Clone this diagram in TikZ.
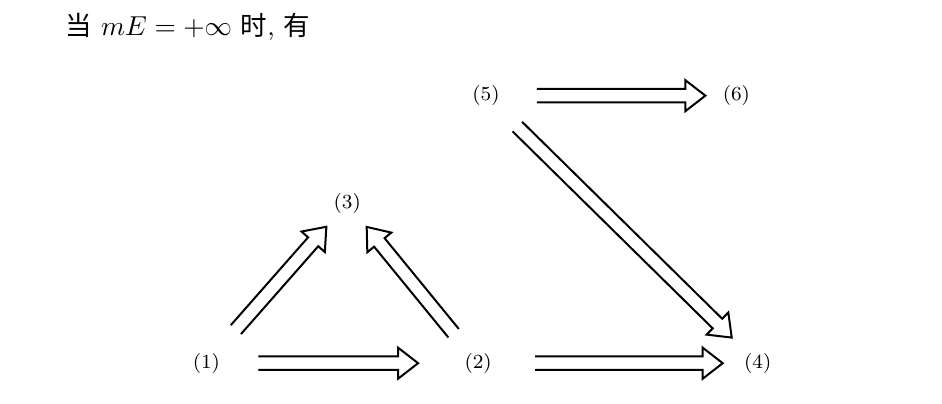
\documentclass[tikz,border=0pt]{standalone}
\usepackage{fontspec}
\newfontfamily\cjk{Noto Sans CJK SC}
\usepackage{tikz}
\usetikzlibrary{calc,positioning}

\tikzset{fat/.style={line width=0.8pt},
         lbl/.style={font=\footnotesize}}
% hollow double arrow from node #1 to node #2, gaps #3 and #4
\newcommand{\fatarrow}[4]{%
  \coordinate (fs) at ($(#1)!#3!(#2)$);
  \coordinate (fe) at ($(#2)!#4!(#1)$);
  \coordinate (fb) at ($(fe)!8pt!(fs)$);
  \draw[fat] ($(fs)!2.7pt!90:(fe)$) -- ($(fb)!2.7pt!90:(fe)$) -- ($(fb)!6.2pt!90:(fe)$) -- (fe)
    -- ($(fb)!6.2pt!-90:(fe)$) -- ($(fb)!2.7pt!-90:(fe)$) -- ($(fs)!2.7pt!-90:(fe)$);}

\begin{document}
\begin{tikzpicture}
    \useasboundingbox (0,0) rectangle (13.24,5.665);
    \node[anchor=base west, font=\fontsize{10.6}{13}\selectfont] (head) at (0.80,5.16) {{\cjk 当} $mE=+\infty$ {\cjk 时}, {\cjk 有}};
    \node[lbl] (n1) at (2.90,0.56) {(1)};
    \node[lbl] (n2) at (6.72,0.56) {(2)};
    \node[lbl] (n3) at (4.88,2.81) {(3)};
    \node[lbl] (n4) at (10.65,0.56) {(4)};
    \node[lbl] (n5) at (6.83,4.32) {(5)};
    \node[lbl] (n6) at (10.35,4.32) {(6)};
    \fatarrow{n1}{n2}{20.8pt}{24pt}
    \fatarrow{n2}{n4}{22.8pt}{14pt}
    \fatarrow{n5}{n6}{20.4pt}{12.4pt}
    \fatarrow{n5}{n4}{17.6pt}{14.6pt}
    \fatarrow{n1}{n3}{17.9pt}{12.6pt}
    \fatarrow{n2}{n3}{15.5pt}{12.3pt}
\end{tikzpicture}
\end{document}
